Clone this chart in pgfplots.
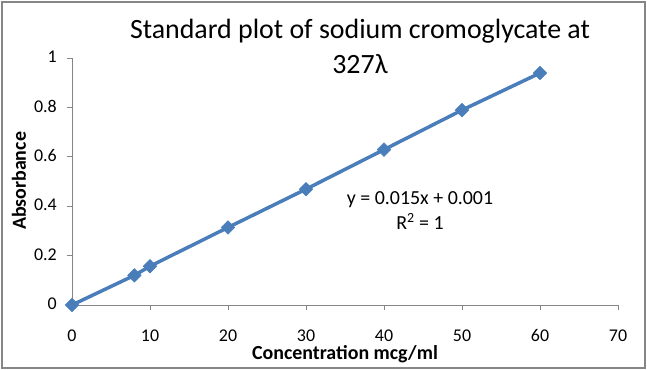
\documentclass[border=0pt]{standalone}
\usepackage{pgfplots}
\pgfplotsset{compat=1.18}
\usepackage{fontspec}
\setmainfont{Carlito}
\definecolor{serblue}{HTML}{4A7EBB}
\definecolor{axgray}{HTML}{868686}
\begin{document}
\begin{tikzpicture}
\useasboundingbox (0,0) rectangle (647bp,370bp);
\draw[axgray, line width=1.5bp] (2bp,2bp) rectangle (645bp,368bp);
\begin{axis}[
  at={(72bp,65bp)}, anchor=south west,
  scale only axis, width=546bp, height=247bp,
  xmin=0, xmax=70, ymin=0, ymax=1,
  xtick={0,10,...,70}, ytick={0,0.2,...,1},
  axis x line=bottom, axis y line=left,
  axis line style={axgray, line width=0.8bp, -},
  tick style={axgray, line width=0.8bp},
  tick align=outside, major tick length=5bp,
  /pgf/number format/assume math mode=true,
  ticklabel style={font=\fontsize{18}{20}\selectfont, text=black, inner sep=0pt},
  xticklabel style={anchor=base, yshift=-31bp},
  yticklabel style={anchor=east, xshift=-10bp, yshift=1bp},
  clip=false,
]
\addplot[serblue, line width=3.5bp, mark=square*, mark size=4.8bp, mark options={fill=serblue, draw=serblue, line width=0.5bp, rotate=45}]
  coordinates {(0,0) (8,0.12) (10,0.157) (20,0.314) (30,0.469) (40,0.629) (50,0.789) (60,0.939)};
\end{axis}
\node[anchor=base, font=\fontsize{28}{30}\selectfont] at (360bp,331bp) {Standard plot of sodium cromoglycate at};
\node[anchor=base, font=\fontsize{28}{30}\selectfont] at (360bp,296bp) {327λ};
\node[anchor=base, font=\fontsize{20}{22}\selectfont] at (420bp,165bp) {y = 0.015x + 0.001};
\node[anchor=base, font=\fontsize{20}{22}\selectfont] at (420bp,140bp) {R\textsuperscript{2} = 1};
\node[anchor=base, inner sep=0pt, font=\bfseries\fontsize{20}{22}\selectfont] at (345bp,11bp) {Concentration mcg/ml};
\node[rotate=90, font=\bfseries\fontsize{20}{22}\selectfont] at (19bp,189bp) {Absorbance};
\end{tikzpicture}
\end{document}
